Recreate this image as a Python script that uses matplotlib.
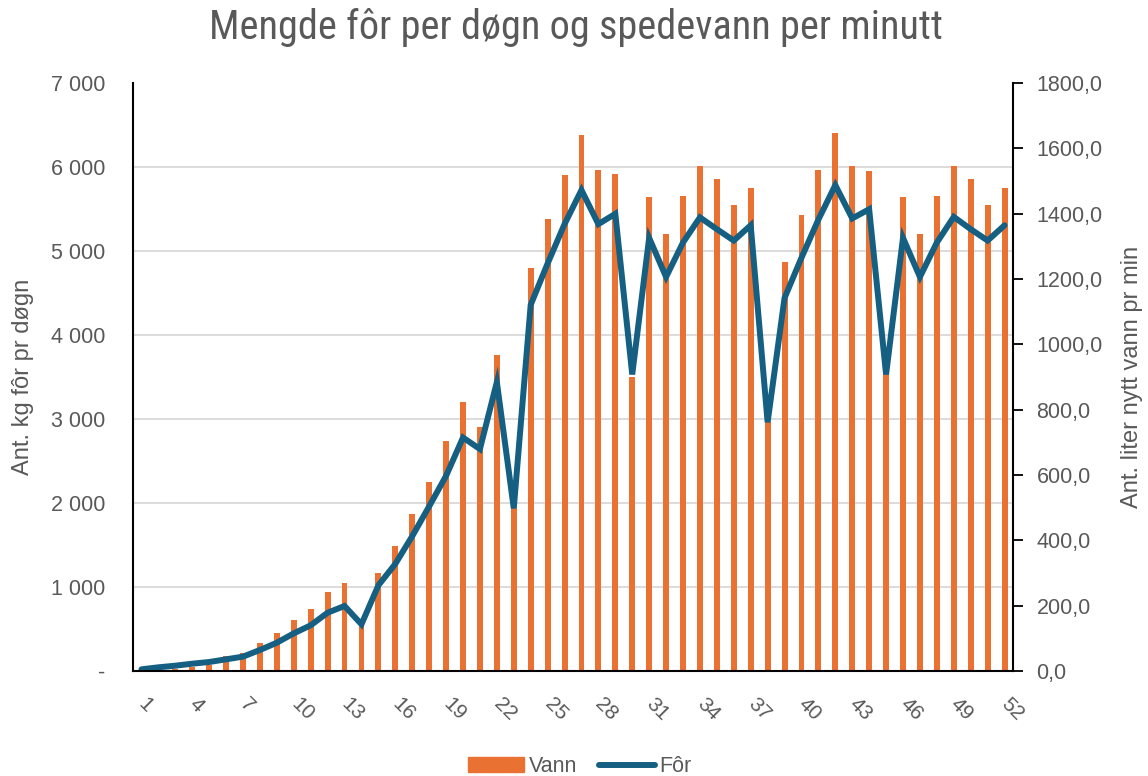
import numpy as np
import matplotlib
matplotlib.use("Agg")
import matplotlib.pyplot as plt
from matplotlib import font_manager
from matplotlib.ticker import FixedLocator, FuncFormatter
from matplotlib.patches import Patch
from matplotlib.lines import Line2D

# Data (week 1..52)
weeks = list(range(1, 53))

# Vann: liter nytt vann pr min (right axis, bars)
vann = [1.3, 2.6, 5.1, 11.6, 18.0, 46.3, 56.6, 86.7, 117.3, 156.1,
        189.8, 241.7, 268.5, 154.3, 299.1, 383.1, 480.9, 577.3, 704.0, 823.4,
        746.2, 967.4, 498.9, 1232.2, 1384.2, 1518.9, 1639.5, 1534.1, 1521.3, 900.0,
        1452.4, 1336.4, 1454.6, 1545.4, 1504.8, 1426.4, 1478.1, 761.4, 1253.0, 1397.3,
        1533.1, 1647.8, 1544.6, 1531.8, 907.7, 1452.4, 1336.4, 1454.6, 1545.4, 1504.8,
        1426.4, 1478.1]

# Fôr: kg fôr pr døgn (left axis, line)
foer = [20, 44, 63, 87, 107, 139, 171, 250, 337, 448,
        544, 694, 774, 556, 1020, 1275, 1605, 1960, 2323, 2779,
        2642, 3439, 1936, 4359, 4851, 5320, 5725, 5320, 5443, 3530,
        5156, 4691, 5101, 5400, 5260, 5124, 5306, 2961, 4441, 4919,
        5374, 5784, 5388, 5497, 3530, 5156, 4691, 5101, 5406, 5260,
        5124, 5306]

left_ticks = [0, 1000, 2000, 3000, 4000, 5000, 6000, 7000]
right_ticks = [0, 200, 400, 600, 800, 1000, 1200, 1400, 1600, 1800]
week_labels = weeks[::3]

ORANGE = "#E97132"
BLUE = "#156082"
TEXT = "#595959"
GRID = "#D9D9D9"

installed = {f.name for f in font_manager.fontManager.ttflist}


def pick(cands):
    for c in cands:
        if c in installed:
            return c
    return "DejaVu Sans"


narrow = pick(["Liberation Sans Narrow", "Roboto Condensed", "DejaVu Sans Condensed", "Liberation Sans"])
regular = pick(["Liberation Sans", "Roboto", "DejaVu Sans"])
plt.rcParams["font.family"] = [regular, "DejaVu Sans"]

fig = plt.figure(figsize=(11.48, 7.76), dpi=100)
ax = fig.add_axes([133 / 1148, 1 - 671 / 776, (1013 - 133) / 1148, (671 - 83) / 776])
ax2 = ax.twinx()

# bars on the right axis, drawn behind the line axis
ax.set_zorder(2)
ax2.set_zorder(1)
ax.patch.set_visible(False)

ax2.bar(weeks, vann, width=0.35, color=ORANGE, zorder=2)
ax2.set_ylim(0, 1800)
ax2.yaxis.set_major_locator(FixedLocator(right_ticks))
ax2.yaxis.set_major_formatter(FuncFormatter(lambda v, p: f"{v:.1f}".replace(".", ",")))
ax2.yaxis.set_minor_locator(FixedLocator(np.array(left_ticks[1:]) * 1800 / 7000))
ax2.grid(which="minor", axis="y", color=GRID, lw=1.3)
ax2.set_axisbelow(True)
ax2.tick_params(axis="y", which="major", length=7, width=1.3, color="black",
                labelsize=15.5, labelcolor=TEXT, pad=10)
ax2.tick_params(axis="y", which="minor", length=0)
for s in ["top", "left", "bottom"]:
    ax2.spines[s].set_visible(False)
ax2.spines["right"].set_linewidth(1.5)
ax2.set_ylabel("Ant. liter nytt vann pr min", fontsize=17, color=TEXT, labelpad=13)

ax.plot(weeks, foer, color=BLUE, lw=4.3, solid_capstyle="round", solid_joinstyle="miter")
ax.set_ylim(0, 7000)
ax.set_xlim(0.5, 52.5)
ax.yaxis.set_major_locator(FixedLocator(left_ticks))
ax.yaxis.set_major_formatter(FuncFormatter(lambda v, p: "-" if v == 0 else f"{int(v):,}".replace(",", " ")))
ax.tick_params(axis="y", length=0, labelsize=15.5, labelcolor=TEXT, pad=20)
ax.set_xticks(week_labels)
ax.set_xticklabels([str(w) for w in week_labels], rotation=-45, ha="left", va="center",
                   rotation_mode="anchor")
ax.tick_params(axis="x", length=0, labelsize=15, labelcolor=TEXT, pad=22)
for s in ["top", "right"]:
    ax.spines[s].set_visible(False)
for s in ["left", "bottom"]:
    ax.spines[s].set_linewidth(1.5)
ax.set_ylabel("Ant. kg fôr pr døgn", fontsize=17, color=TEXT, labelpad=12)

fig.suptitle("Mengde fôr per døgn og spedevann per minutt", x=0.502, y=0.99,
             fontsize=29, color=TEXT, family=[narrow, "DejaVu Sans"])

handles = [Patch(color=ORANGE, label="Vann"),
           Line2D([], [], color=BLUE, lw=4.3, solid_capstyle="round", label="Fôr")]
fig.legend(handles=handles, loc="center", bbox_to_anchor=(0.505, 0.012), ncol=2,
           frameon=False, fontsize=15.5, labelcolor=TEXT, handlelength=2.6, handleheight=0.7,
           handletextpad=0.2, columnspacing=1.0)

fig.savefig("out.png", dpi=100)
